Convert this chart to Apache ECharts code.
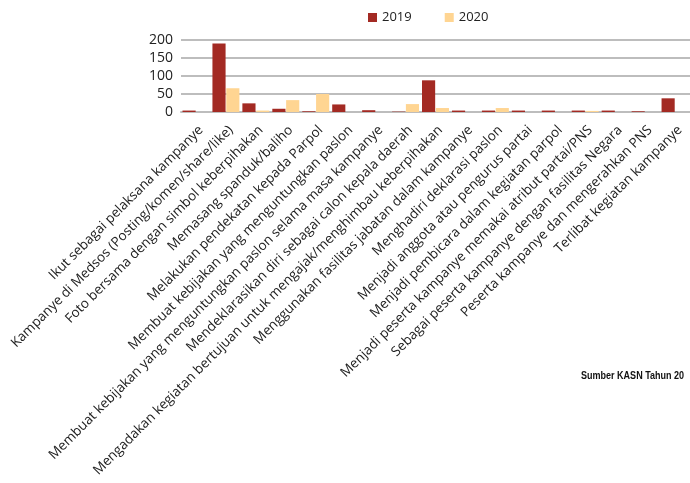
<!DOCTYPE html>
<html>
<head>
<meta charset="utf-8">
<script src="https://cdn.jsdelivr.net/npm/echarts@6/dist/echarts.min.js"></script>
<style>
  html, body { margin: 0; padding: 0; background: #fff; }
  #main { width: 690px; height: 483px; }
</style>
</head>
<body>
<div id="main"></div>
<script>
var categories = [
  "Ikut sebagai pelaksana kampanye",
  "Kampanye di Medsos (Posting/komen/share/like)",
  "Foto bersama dengan simbol keberpihakan",
  "Memasang spanduk/baliho",
  "Melakukan pendekatan kepada Parpol",
  "Membuat kebijakan yang menguntungkan paslon",
  "Membuat kebijakan yang menguntungkan paslon selama masa kampanye",
  "Mendeklarasikan diri sebagai calon kepala daerah",
  "Mengadakan kegiatan bertujuan untuk mengajak/menghimbau keberpihakan",
  "Menggunakan fasilitas jabatan dalam kampanye",
  "Menghadiri deklarasi paslon",
  "Menjadi anggota atau pengurus partai",
  "Menjadi pembicara dalam kegiatan parpol",
  "Menjadi peserta kampanye memakai atribut partai/PNS",
  "Sebagai peserta kampanye dengan fasilitas Negara",
  "Peserta kampanye dan mengerahkan PNS",
  "Terlibat kegiatan kampanye"
];
var values2019 = [4, 190, 24, 9, 2, 21, 5, 1, 88, 4, 4, 4, 4, 4, 4, 2, 38];
var values2020 = [0, 66, 4, 33, 50, 0, 0, 22, 11, 0, 11, 0, 0, 3, 0, 0, 0];
var yTicks = [0, 50, 100, 150, 200];

var myChart = echarts.init(document.getElementById("main"));
var option = {
  animation: false,
  legend: {
    top: 6,
    left: 363,
    itemWidth: 9,
    itemHeight: 9,
    itemGap: 33,
    icon: "rect",
    textStyle: { fontFamily: "Open Sans", fontSize: 13, color: "#222" },
    data: ["2019", "2020"]
  },
  grid: { left: 181, right: 0, top: 40, bottom: 371 },
  xAxis: {
    type: "category",
    data: categories,
    axisTick: { show: false },
    axisLine: { lineStyle: { color: "#bdbdbd", width: 2 } },
    axisLabel: {
      interval: 0,
      rotate: 45,
      margin: 11,
      verticalAlign: "top",
      fontFamily: "Open Sans",
      fontSize: 13.5,
      color: "#222"
    }
  },
  yAxis: {
    type: "value",
    min: yTicks[0],
    max: yTicks[yTicks.length - 1],
    interval: 50,
    axisLine: { show: false },
    axisTick: { show: false },
    splitLine: { lineStyle: { color: "#bdbdbd", width: 2 } },
    axisLabel: { fontFamily: "Open Sans", fontSize: 14, color: "#222", margin: 8 }
  },
  series: [
    {
      name: "2019",
      type: "bar",
      data: values2019,
      barGap: "5%",
      barCategoryGap: "10%",
      itemStyle: { color: "#a32a23" }
    },
    {
      name: "2020",
      type: "bar",
      data: values2020,
      itemStyle: { color: "#ffd592" }
    }
  ],
  graphic: [
    {
      type: "text",
      x: 581,
      y: 370,
      scaleX: 0.82,
      style: {
        text: "Sumber KASN Tahun 20",
        font: "bold 11px 'Liberation Sans', sans-serif",
        fill: "#111"
      }
    }
  ]
};
myChart.setOption(option);
</script>
</body>
</html>
